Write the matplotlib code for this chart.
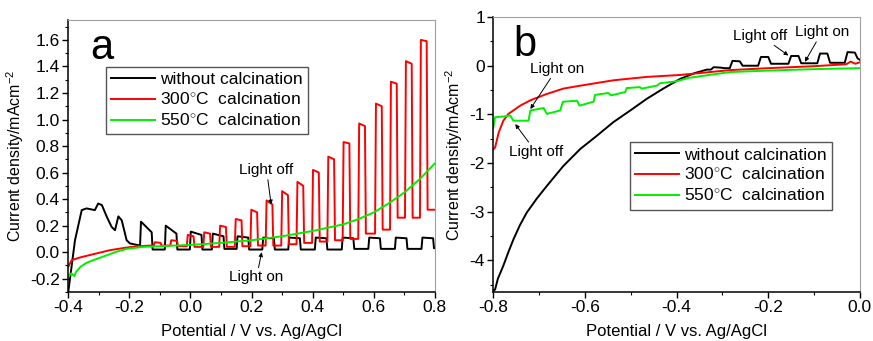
import matplotlib
matplotlib.use("Agg")
import matplotlib.pyplot as plt
from matplotlib.ticker import MultipleLocator

plt.rcParams['font.family'] = ['Liberation Sans', 'DejaVu Sans']
plt.rcParams['mathtext.fontset'] = 'custom'
plt.rcParams['mathtext.rm'] = 'Liberation Sans'

labels = ['without calcination', '300$^{\\circ}$C  calcination', '550$^{\\circ}$C  calcination']
colors = ['black', '#ff0000', '#00ee00']

# ---- panel a : anodic scan, chopped light ----
# black (without calcination): start of scan, then chopped part
blk_a_x0 = [-0.4, -0.378, -0.356, -0.34, -0.313, -0.302, -0.29, -0.274, -0.258, -0.247,
            -0.236, -0.225, -0.209, -0.198, -0.171]
blk_a_y0 = [-0.30, 0.09, 0.317, 0.33, 0.317, 0.367, 0.355, 0.267, 0.19, 0.166,
            0.27, 0.24, 0.09, 0.066, 0.053]
blk_a_rise = [-0.165, -0.084, -0.002, 0.07, 0.151, 0.235, 0.32, 0.407, 0.495, 0.582, 0.669, 0.756]
blk_a_top = [0.23, 0.20, 0.155, 0.14, 0.12, 0.11, 0.11, 0.11, 0.11, 0.11, 0.11, 0.11]
blk_a_end = [0.15, 0.14, 0.13, 0.12, 0.11, 0.105, 0.105, 0.105, 0.105, 0.105, 0.105, 0.105]
blk_a_dark = [0.02, 0.02, 0.02, 0.025, 0.02, 0.02, 0.02, 0.02, 0.025, 0.025, 0.025, 0.03]

# red (300 C)
red_a_x0 = [-0.4, -0.389, -0.362, -0.318, -0.264, -0.209, -0.171, -0.13]
red_a_y0 = [-0.11, -0.06, -0.04, -0.015, 0.015, 0.035, 0.045, 0.05]
red_a_rise = [-0.12, -0.066, -0.012, 0.042, 0.094, 0.145, 0.196, 0.246, 0.297, 0.347,
              0.398, 0.448, 0.498, 0.549, 0.604, 0.653, 0.702, 0.751]
red_a_top = [0.075, 0.09, 0.13, 0.15, 0.20, 0.25, 0.32, 0.39, 0.46, 0.53,
             0.62, 0.72, 0.83, 0.97, 1.12, 1.285, 1.44, 1.60]
red_a_end = [0.07, 0.085, 0.12, 0.14, 0.19, 0.24, 0.30, 0.36, 0.43, 0.50,
             0.60, 0.70, 0.82, 0.95, 1.10, 1.27, 1.42, 1.59]
red_a_dark = [0.05, 0.045, 0.04, 0.04, 0.04, 0.045, 0.05, 0.05, 0.06, 0.07,
              0.08, 0.09, 0.10, 0.14, 0.17, 0.26, 0.26, 0.32]

# green (550 C)
grn_a_x = [-0.4, -0.395, -0.39, -0.38, -0.375, -0.36, -0.34, -0.318, -0.3, -0.264, -0.24,
           -0.209, -0.155, -0.1, 0.0, 0.1, 0.2, 0.3, 0.4, 0.5, 0.55, 0.6, 0.65, 0.7, 0.75, 0.8]
grn_a_y = [-0.19, -0.17, -0.16, -0.18, -0.15, -0.11, -0.08, -0.06, -0.045, -0.015, 0.005,
           0.025, 0.04, 0.045, 0.055, 0.07, 0.09, 0.12, 0.16, 0.21, 0.25, 0.30, 0.37, 0.45, 0.55, 0.67]

# ---- panel b : cathodic scan ----
blk_b_x0 = [-0.8, -0.796, -0.79, -0.778, -0.767, -0.756, -0.742, -0.727, -0.705, -0.683,
            -0.647, -0.61, -0.574, -0.538, -0.501, -0.465, -0.429, -0.392, -0.36, -0.334]
blk_b_y0 = [-4.62, -4.6, -4.38, -4.11, -3.83, -3.57, -3.28, -3.02, -2.73, -2.47,
            -2.06, -1.71, -1.44, -1.16, -0.92, -0.68, -0.47, -0.27, -0.15, -0.08]
blk_b_rise = [-0.325, -0.284, -0.222, -0.156, -0.093, -0.033]
blk_b_top = [-0.03, 0.10, 0.18, 0.20, 0.25, 0.28]
blk_b_end = [-0.04, 0.09, 0.18, 0.20, 0.25, 0.27]
blk_b_dark = [-0.05, 0.0, 0.04, 0.05, 0.06, 0.15]

red_b_x = [-0.8, -0.796, -0.788, -0.778, -0.767, -0.741, -0.719, -0.683, -0.647, -0.61,
           -0.538, -0.465, -0.392, -0.283, -0.2, -0.1, -0.03, -0.02, -0.01, 0.0]
red_b_y = [-1.72, -1.68, -1.37, -1.13, -0.99, -0.82, -0.71, -0.58, -0.47, -0.41,
           -0.30, -0.23, -0.19, -0.09, -0.05, -0.01, 0.03, 0.085, 0.04, 0.07]

grn_b_x = [-0.8, -0.796, -0.774, -0.763, -0.756, -0.723, -0.719, -0.69, -0.683, -0.654,
           -0.648, -0.617, -0.612, -0.581, -0.578, -0.549, -0.543, -0.512, -0.509, -0.48,
           -0.476, -0.443, -0.436, -0.4, -0.374, -0.283, -0.2, -0.1, 0.0]
grn_b_y = [-1.28, -1.06, -1.04, -1.02, -1.13, -1.13, -0.92, -0.87, -0.99, -0.92,
           -0.74, -0.72, -0.82, -0.74, -0.60, -0.56, -0.61, -0.54, -0.46, -0.44,
           -0.47, -0.41, -0.36, -0.32, -0.25, -0.13, -0.10, -0.07, -0.05]


def chopped(x0, y0, rises, width, tops, ends, darks, x_last, y_last, edge=0.003):
    # build the square-wave trace from the read on/off levels
    xs, ys = list(x0), list(y0)
    for r, t, e, d in zip(rises, tops, ends, darks):
        xs += [r, r + edge, r + width, r + width + edge]
        ys += [ys[-1], t, e, d]
    xs.append(x_last)
    ys.append(y_last)
    return xs, ys


fig = plt.figure(figsize=(8.73, 3.41), dpi=100)
ax1 = fig.add_axes([0.0782, 0.1437, 0.420, 0.7977])
ax2 = fig.add_axes([0.565, 0.1437, 0.420, 0.8063])

bx, by = chopped(blk_a_x0, blk_a_y0, blk_a_rise, 0.038, blk_a_top, blk_a_end, blk_a_dark, 0.8, 0.03)
rx, ry = chopped(red_a_x0, red_a_y0, red_a_rise, 0.022, red_a_top, red_a_end, red_a_dark, 0.8, 0.32)
ax1.plot(bx, by, color=colors[0], lw=1.4, label=labels[0])
ax1.plot(rx, ry, color=colors[1], lw=1.4, label=labels[1])
ax1.plot(grn_a_x, grn_a_y, color=colors[2], lw=1.4, label=labels[2])

bx, by = chopped(blk_b_x0, blk_b_y0, blk_b_rise, 0.022, blk_b_top, blk_b_end, blk_b_dark, 0.0, 0.12, edge=0.006)
ax2.plot(bx, by, color=colors[0], lw=1.4, label=labels[0])
ax2.plot(red_b_x, red_b_y, color=colors[1], lw=1.4, label=labels[1])
ax2.plot(grn_b_x, grn_b_y, color=colors[2], lw=1.4, label=labels[2])

ax1.set_xlim(-0.4, 0.8)
ax1.set_ylim(-0.3, 1.75)
ax1.xaxis.set_minor_locator(MultipleLocator(0.1))
ax1.yaxis.set_minor_locator(MultipleLocator(0.1))
ax1.set_xticks([-0.4, -0.2, 0.0, 0.2, 0.4, 0.6, 0.8])
ax1.set_xticklabels(['-0.4', '-0.2', '0.0', '0.2', '0.4', '0.6', '0.8'])
ax1.set_yticks([-0.2, 0.0, 0.2, 0.4, 0.6, 0.8, 1.0, 1.2, 1.4, 1.6])
ax1.set_yticklabels(['-0.2', '0.0', '0.2', '0.4', '0.6', '0.8', '1.0', '1.2', '1.4', '1.6'])

ax2.set_xlim(-0.8, 0.0)
ax2.set_ylim(-4.65, 1.0)
ax2.xaxis.set_minor_locator(MultipleLocator(0.1))
ax2.yaxis.set_minor_locator(MultipleLocator(0.5))
ax2.set_xticks([-0.8, -0.6, -0.4, -0.2, 0.0])
ax2.set_xticklabels(['-0.8', '-0.6', '-0.4', '-0.2', '0.0'])
ax2.set_yticks([-4, -3, -2, -1, 0, 1])
ax2.set_yticklabels(['-4', '-3', '-2', '-1', '0', '1'])

for ax in (ax1, ax2):
    ax.tick_params(which='major', direction='out', length=4, width=1, labelsize=12.5,
                   top=False, right=False, pad=2)
    ax.tick_params(which='minor', direction='out', length=2.5, width=0.8, top=False, right=False)
    ax.spines['left'].set_linewidth(1.1)
    ax.spines['bottom'].set_linewidth(1.1)
    ax.spines['top'].set_color('#a0a0a0')
    ax.spines['right'].set_color('#a0a0a0')
    ax.set_xlabel('Potential / V vs. Ag/AgCl', fontsize=12, labelpad=6)
    ax.set_ylabel('Current density/mAcm$^{-2}$', fontsize=11.5, labelpad=3)

ax1.legend(loc='upper left', bbox_to_anchor=(0.103, 0.827), borderaxespad=0, fontsize=12.5,
           handlelength=2.5, handletextpad=0.3, labelspacing=0.25, fancybox=False,
           edgecolor='#555555', framealpha=1, borderpad=0.3)
ax2.legend(loc='upper left', bbox_to_anchor=(0.373, 0.545), borderaxespad=0, fontsize=12.5,
           handlelength=2.5, handletextpad=0.3, labelspacing=0.25, fancybox=False,
           edgecolor='#555555', framealpha=1, borderpad=0.3)

ax1.text(0.06, 0.97, 'a', transform=ax1.transAxes, fontsize=30, va='top', ha='left')
ax2.text(0.055, 0.97, 'b', transform=ax2.transAxes, fontsize=30, va='top', ha='left')

arrow = dict(arrowstyle='-|>', color='black', lw=0.7, mutation_scale=6, shrinkA=0, shrinkB=0)
ax1.annotate('Light off', xy=(0.264, 0.36), xytext=(0.249, 0.62), fontsize=11,
             ha='center', va='center', arrowprops=arrow)
ax1.annotate('Light on', xy=(0.233, 0.0), xytext=(0.216, -0.19), fontsize=11,
             ha='center', va='center', arrowprops=arrow)
ax2.annotate('Light off', xy=(-0.752, -1.2), xytext=(-0.707, -1.77), fontsize=11,
             ha='center', va='center', arrowprops=arrow)
ax2.annotate('Light on', xy=(-0.719, -0.89), xytext=(-0.661, -0.06), fontsize=11,
             ha='center', va='center', arrowprops=arrow)
ax2.annotate('Light off', xy=(-0.156, 0.21), xytext=(-0.217, 0.62), fontsize=11,
             ha='center', va='center', arrowprops=arrow)
ax2.annotate('Light on', xy=(-0.12, 0.08), xytext=(-0.083, 0.69), fontsize=11,
             ha='center', va='center', arrowprops=arrow)

fig.savefig('out.png', dpi=100)
